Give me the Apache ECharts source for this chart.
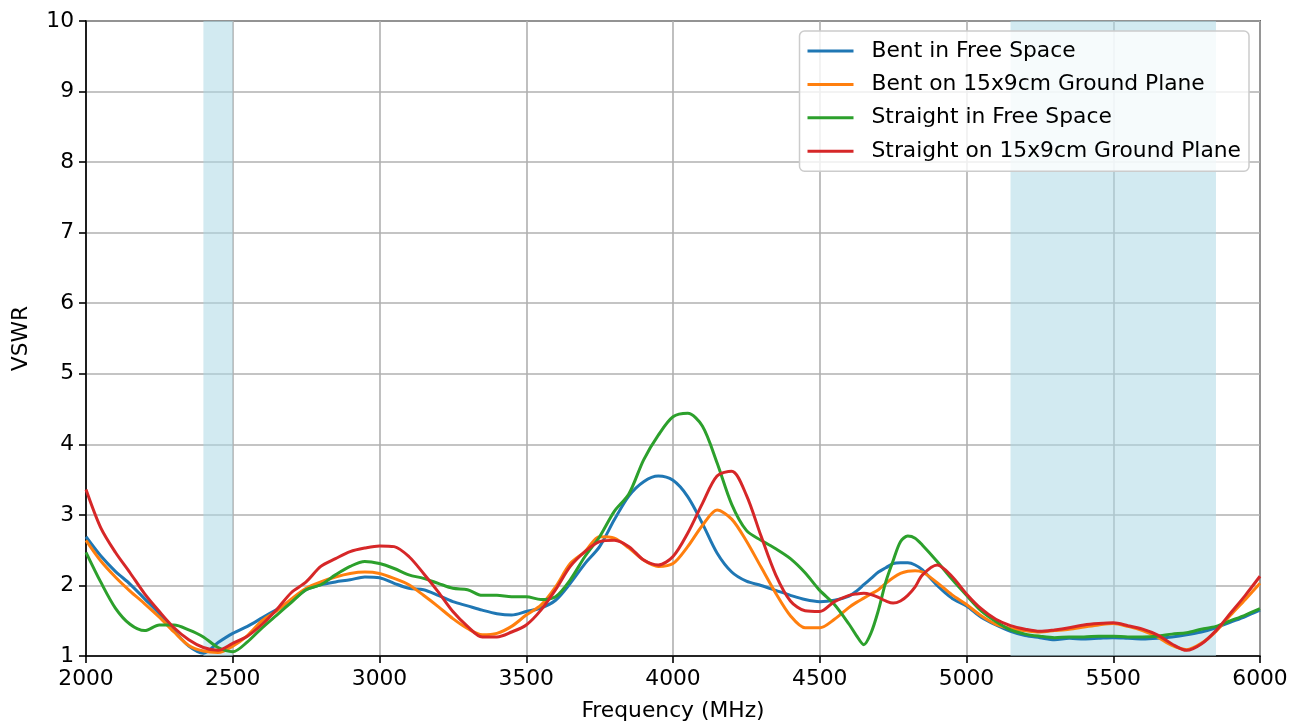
<!DOCTYPE html>
<html>
<head>
<meta charset="utf-8">
<title>VSWR vs Frequency</title>
<script src="https://cdn.jsdelivr.net/npm/echarts@6/dist/echarts.min.js"></script>
<style>
  html, body { margin: 0; padding: 0; background: #ffffff; }
  #chart { width: 1302px; height: 727px; }
</style>
</head>
<body>
<div id="chart"></div>
<script>
// Measurement frequencies (MHz)
const freqMHz = [
  2000, 2050, 2100, 2150, 2200, 2250, 2300, 2350, 2400, 2450,
  2500, 2550, 2600, 2650, 2700, 2750, 2800, 2850, 2900, 2950,
  3000, 3050, 3100, 3150, 3200, 3250, 3300, 3350, 3400, 3450,
  3500, 3550, 3600, 3650, 3700, 3750, 3800, 3850, 3900, 3950,
  4000, 4050, 4100, 4150, 4200, 4250, 4300, 4350, 4400, 4450,
  4500, 4550, 4600, 4625, 4650, 4675, 4700, 4725, 4750, 4775,
  4800, 4825, 4850, 4900, 4950, 5000, 5050, 5100, 5150, 5200,
  5250, 5300, 5350, 5400, 5450, 5500, 5550, 5600, 5650, 5700,
  5750, 5800, 5850, 5900, 5950, 6000
];

// VSWR per antenna configuration
const bentFreeSpace = [
  2.69, 2.42, 2.20, 2.02, 1.81, 1.60, 1.36, 1.14, 1.04, 1.19,
  1.32, 1.42, 1.54, 1.66, 1.78, 1.94, 2.01, 2.05, 2.08, 2.12,
  2.11, 2.03, 1.96, 1.94, 1.86, 1.77, 1.71, 1.65, 1.60, 1.58,
  1.63, 1.68, 1.79, 2.03, 2.31, 2.55, 2.93, 3.27, 3.47, 3.55,
  3.49, 3.26, 2.88, 2.46, 2.19, 2.06, 2.00, 1.93, 1.86, 1.80,
  1.77, 1.79, 1.85, 1.92, 2.01, 2.10, 2.19, 2.25, 2.31, 2.32,
  2.32, 2.29, 2.22, 2.00, 1.82, 1.71, 1.55, 1.44, 1.35, 1.29,
  1.26, 1.23, 1.25, 1.24, 1.25, 1.26, 1.25, 1.24, 1.25, 1.27,
  1.30, 1.34, 1.40, 1.48, 1.56, 1.65
];

const bentGroundPlane = [
  2.64, 2.35, 2.12, 1.92, 1.74, 1.55, 1.34, 1.15, 1.07, 1.05,
  1.14, 1.29, 1.50, 1.64, 1.81, 1.96, 2.05, 2.12, 2.17, 2.19,
  2.17, 2.10, 2.01, 1.86, 1.70, 1.53, 1.39, 1.30, 1.32, 1.42,
  1.58, 1.72, 1.98, 2.31, 2.48, 2.69, 2.67, 2.53, 2.36, 2.27,
  2.31, 2.55, 2.85, 3.07, 2.94, 2.63, 2.26, 1.89, 1.57, 1.40,
  1.40, 1.52, 1.69, 1.76, 1.82, 1.88, 1.94, 2.03, 2.11, 2.17,
  2.20, 2.21, 2.19, 2.04, 1.87, 1.73, 1.57, 1.45, 1.39, 1.36,
  1.34, 1.36, 1.38, 1.41, 1.44, 1.46, 1.42, 1.36, 1.27, 1.15,
  1.09, 1.18, 1.35, 1.58, 1.80, 2.03
];

const straightFreeSpace = [
  2.47, 2.05, 1.68, 1.45, 1.36, 1.44, 1.44, 1.37, 1.27, 1.12,
  1.06, 1.20, 1.40, 1.58, 1.76, 1.94, 2.01, 2.15, 2.27, 2.34,
  2.31, 2.24, 2.15, 2.10, 2.03, 1.96, 1.94, 1.86, 1.86, 1.84,
  1.84, 1.80, 1.84, 2.08, 2.41, 2.69, 3.05, 3.30, 3.78, 4.13,
  4.39, 4.44, 4.26, 3.74, 3.15, 2.78, 2.64, 2.52, 2.38, 2.18,
  1.93, 1.73, 1.45, 1.29, 1.16, 1.33, 1.65, 2.05, 2.35, 2.62,
  2.70, 2.67, 2.57, 2.34, 2.09, 1.86, 1.64, 1.49, 1.37, 1.31,
  1.28, 1.26, 1.27, 1.27, 1.28, 1.28, 1.27, 1.27, 1.28, 1.31,
  1.33, 1.38, 1.42, 1.50, 1.58, 1.67
];

const straightGroundPlane = [
  3.36, 2.82, 2.47, 2.18, 1.88, 1.63, 1.40, 1.23, 1.12, 1.08,
  1.18, 1.28, 1.45, 1.66, 1.90, 2.05, 2.27, 2.38, 2.48, 2.53,
  2.56, 2.55, 2.41, 2.17, 1.91, 1.63, 1.42, 1.27, 1.27, 1.34,
  1.44, 1.65, 1.94, 2.27, 2.48, 2.62, 2.64, 2.55, 2.36, 2.29,
  2.41, 2.74, 3.16, 3.55, 3.62, 3.28, 2.70, 2.15, 1.78, 1.64,
  1.63, 1.77, 1.86, 1.88, 1.89, 1.87, 1.83, 1.78, 1.75, 1.78,
  1.86, 1.98, 2.15, 2.29, 2.13, 1.88, 1.67, 1.52, 1.43, 1.38,
  1.35, 1.37, 1.40, 1.44, 1.46, 1.47, 1.43, 1.38, 1.30, 1.17,
  1.08, 1.17, 1.36, 1.61, 1.86, 2.13
];

const seriesNames = [
  'Bent in Free Space',
  'Bent on 15x9cm Ground Plane',
  'Straight in Free Space',
  'Straight on 15x9cm Ground Plane'
];
const seriesValues = [bentFreeSpace, bentGroundPlane, straightFreeSpace, straightGroundPlane];
const seriesColors = ['#1f77b4', '#ff7f0e', '#2ca02c', '#d62728'];

// Highlighted Wi-Fi bands (MHz)
const bands = [[2400, 2500], [5150, 5850]];

const FONT = 'DejaVu Sans';
const FS = 21.8;

const chart = echarts.init(document.getElementById('chart'), null, { renderer: 'canvas' });

const lineSeries = seriesNames.map((name, i) => ({
  name: name,
  type: 'line',
  data: freqMHz.map((f, k) => [f, seriesValues[i][k]]),
  showSymbol: false,
  smooth: 0.3,
  clip: true,
  z: 3 + i,
  lineStyle: { color: seriesColors[i], width: 3 },
  itemStyle: { color: seriesColors[i] },
  emphasis: { disabled: true }
}));

// Shaded band areas drawn by an empty helper series
lineSeries.unshift({
  name: 'bands',
  type: 'line',
  data: [],
  z: 2,
  markArea: {
    silent: true,
    itemStyle: { color: 'rgba(173,216,230,0.55)' },
    data: bands.map(b => [{ xAxis: b[0] }, { xAxis: b[1] }])
  }
});

chart.setOption({
  animation: false,
  backgroundColor: '#ffffff',
  grid: {
    left: 86, right: 42, top: 21, bottom: 71,
    show: true, borderColor: '#000000', borderWidth: 1.6, backgroundColor: 'transparent'
  },
  legend: {
    data: seriesNames,
    orient: 'vertical',
    right: 53,
    top: 31,
    icon: 'rect',
    itemWidth: 46,
    itemHeight: 3,
    itemGap: 9.4,
    padding: [8, 8, 8, 8],
    backgroundColor: 'rgba(255,255,255,0.8)',
    borderColor: '#cccccc',
    borderWidth: 1.5,
    borderRadius: 5,
    textStyle: {
      fontFamily: FONT, fontSize: FS, color: '#000000',
      lineHeight: 24, padding: [0, 0, 0, 13]
    }
  },
  xAxis: {
    type: 'value',
    min: 2000, max: 6000, interval: 500,
    name: 'Frequency (MHz)',
    nameLocation: 'middle',
    nameGap: 44,
    nameTextStyle: { fontFamily: FONT, fontSize: FS, color: '#000000' },
    axisLine: { show: true, onZero: false, lineStyle: { color: '#000000', width: 1.6 } },
    axisTick: { show: true, inside: false, length: 7, lineStyle: { color: '#000000', width: 1.6 } },
    axisLabel: {
      fontFamily: FONT, fontSize: FS, color: '#000000', margin: 12,
      formatter: v => String(v)
    },
    splitLine: { show: true, lineStyle: { color: '#b0b0b0', width: 1.6 } }
  },
  yAxis: {
    type: 'value',
    min: 1, max: 10, interval: 1,
    name: 'VSWR',
    nameLocation: 'middle',
    nameRotate: 90,
    nameGap: 54,
    nameTextStyle: { fontFamily: FONT, fontSize: FS, color: '#000000' },
    axisLine: { show: true, onZero: false, lineStyle: { color: '#000000', width: 1.6 } },
    axisTick: { show: true, inside: false, length: 7, lineStyle: { color: '#000000', width: 1.6 } },
    axisLabel: {
      fontFamily: FONT, fontSize: FS, color: '#000000', margin: 12,
      formatter: v => String(v)
    },
    splitLine: { show: true, lineStyle: { color: '#b0b0b0', width: 1.6 } }
  },
  series: lineSeries
});
</script>
</body>
</html>
